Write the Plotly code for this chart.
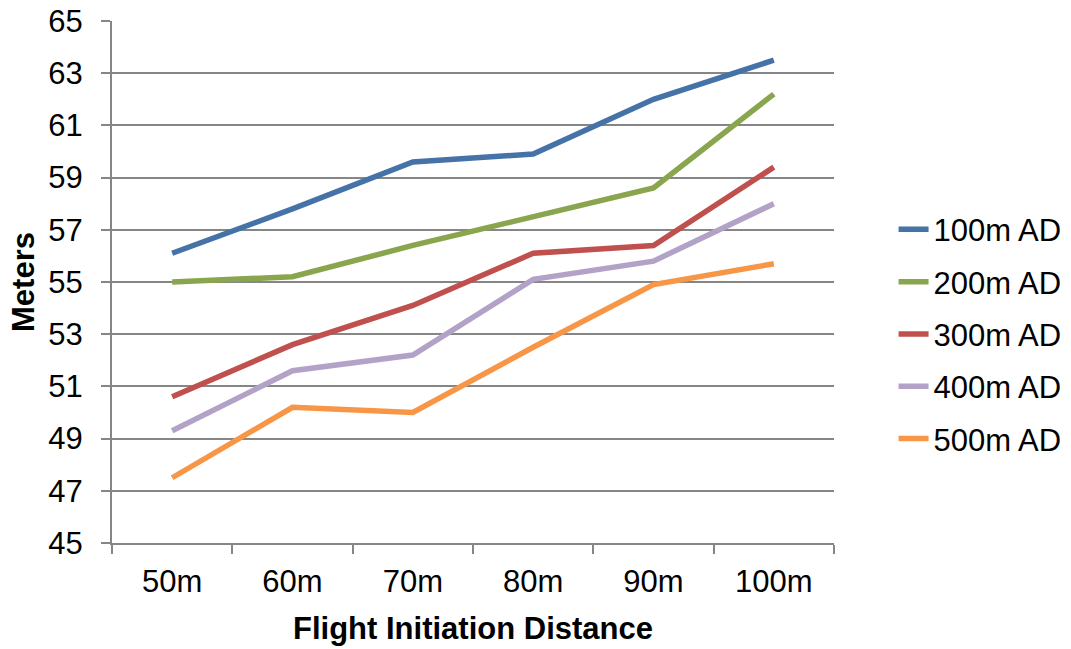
import plotly.graph_objects as go

categories = ["50m", "60m", "70m", "80m", "90m", "100m"]
series_names = ["100m AD", "200m AD", "300m AD", "400m AD", "500m AD"]
ad100 = [56.1, 57.8, 59.6, 59.9, 62.0, 63.5]
ad200 = [55.0, 55.2, 56.4, 57.5, 58.6, 62.2]
ad300 = [50.6, 52.6, 54.1, 56.1, 56.4, 59.4]
ad400 = [49.3, 51.6, 52.2, 55.1, 55.8, 58.0]
ad500 = [47.5, 50.2, 50.0, 52.5, 54.9, 55.7]
colors = ["#4572A7", "#89A54E", "#C0504D", "#B3A2C7", "#F79646"]

fig = go.Figure()
for i, (name, vals) in enumerate(zip(series_names, [ad100, ad200, ad300, ad400, ad500])):
    fig.add_trace(go.Scatter(
        x=categories, y=vals, name=name, mode="lines",
        line=dict(color=colors[i], width=5.5),
        legendgroup=f"g{i}",
    ))

font_family = "Liberation Sans, Arial, sans-serif"
FS = 31
fig.update_layout(
    width=1071, height=649,
    margin=dict(l=112, r=237, t=21, b=106, autoexpand=False),
    paper_bgcolor="white", plot_bgcolor="white",
    font=dict(family=font_family, size=FS, color="black"),
    showlegend=True,
    legend=dict(
        x=1.0825, xanchor="left", y=0.40, yanchor="middle",
        font=dict(size=FS), tracegroupgap=9,
        bgcolor="rgba(0,0,0,0)",
    ),
    xaxis=dict(
        type="category", range=[-0.5, 5.5], automargin=False,
        tickson="boundaries", ticks="outside", ticklen=9, tickwidth=2,
        tickcolor="#868686", showline=True, linecolor="#868686", linewidth=2,
        showgrid=False, tickfont=dict(size=FS), ticklabelstandoff=10,
        ticklabeloverflow="allow",
        title=dict(text="<b>Flight Initiation Distance</b>", font=dict(size=FS), standoff=19),
    ),
    yaxis=dict(
        range=[45, 65], dtick=2, tick0=45, automargin=False,
        ticks="outside", ticklen=9, tickwidth=2, tickcolor="#868686",
        showline=True, linecolor="#868686", linewidth=2,
        showgrid=True, gridcolor="#868686", gridwidth=2,
        zeroline=False, tickfont=dict(size=FS), ticklabelstandoff=12,
        ticklabeloverflow="allow",
        title=dict(text="<b>Meters</b>", font=dict(size=FS), standoff=4),
    ),
)

fig.write_html("out.html", config={"displayModeBar": False},
               post_script="document.body.style.margin='0';")
